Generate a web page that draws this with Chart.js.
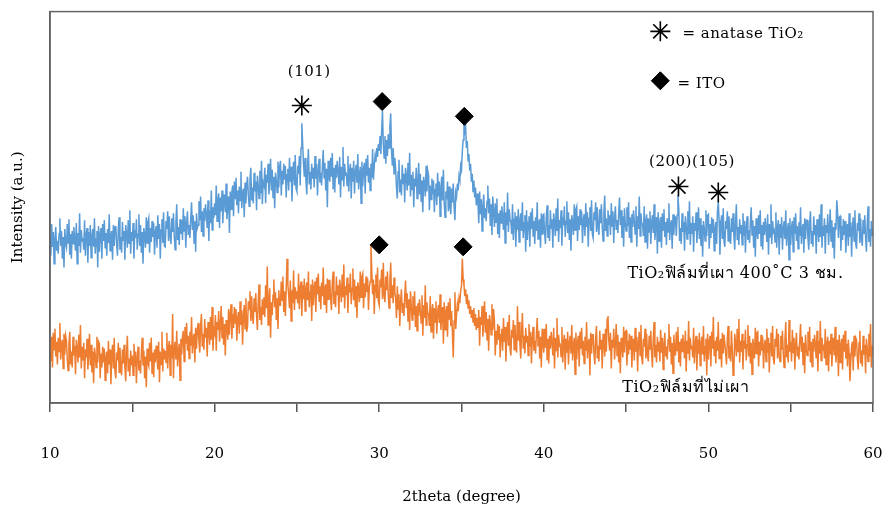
<!DOCTYPE html>
<html>
<head>
<meta charset="utf-8">
<script src="https://cdn.jsdelivr.net/npm/chart.js@4.4.1/dist/chart.umd.min.js"></script>
<style>
  body { margin: 0; background: #fff; }
</style>
</head>
<body>
<canvas id="xrd" width="887" height="515"></canvas>
<script>
// XRD scan: 10 - 60 deg, step 0.05 deg (one row = 1 deg)
const angleStart = 10;
const angleStep = 0.05;
const xTickLabels = [10, 20, 30, 40, 50, 60];

// TiO2 film annealed 400 C 3 h (blue)
const annealedCounts = [
  169,149,181,158,173,141,166,178,154,164,151,171,187,159,174,146,168,137,176,161,
  157,181,162,186,150,171,146,174,161,178,167,154,182,141,172,159,192,152,175,164,
  167,155,185,149,170,177,142,173,159,180,147,169,176,158,187,151,166,174,137,179,
  153,171,177,146,181,164,185,157,172,149,176,162,191,154,169,174,145,180,159,178,
  179,160,149,176,188,155,168,152,183,164,174,145,180,171,157,185,162,195,151,173,
  164,182,146,175,167,186,155,171,191,159,180,152,173,141,177,170,157,188,162,183,
  187,152,177,163,184,168,182,150,173,179,157,190,166,181,146,175,186,162,193,159,
  158,184,176,194,164,189,168,161,187,173,192,169,155,183,201,165,178,160,186,171,
  185,165,197,174,189,157,182,194,170,180,167,187,203,175,190,162,184,153,192,177,
  180,204,185,209,173,194,169,197,184,201,190,177,205,164,195,182,215,175,198,187,
  202,190,220,184,205,212,177,208,194,215,182,204,211,193,222,186,201,209,172,214,
  196,214,220,189,224,207,228,200,215,192,219,205,234,197,212,217,188,223,202,221,
  229,210,199,226,238,205,218,202,233,214,224,195,230,221,207,235,212,245,201,223,
  220,238,202,231,223,242,211,227,247,215,236,208,229,197,233,226,213,244,218,239,
  245,210,235,221,242,226,240,208,231,237,215,248,224,239,204,233,244,220,251,217,
  214,240,232,250,220,258,283,262,243,229,248,225,211,239,257,221,234,216,242,227,
  238,218,250,227,242,210,235,247,223,233,220,240,256,228,243,215,237,198,245,230,
  224,248,229,253,217,238,213,241,228,245,234,221,249,208,239,226,259,219,242,231,
  232,220,250,214,235,242,207,238,224,245,212,234,241,223,252,216,231,239,202,244,
  219,237,243,212,247,230,251,223,238,215,242,228,257,226,240,250,244,258,249,262,
  255,270,252,276,296,262,248,270,242,266,250,272,258,280,293,255,240,258,232,248,
  237,218,207,234,246,213,226,210,241,222,232,203,238,229,215,243,220,253,209,231,
  216,234,198,227,219,238,207,223,243,211,232,204,225,193,229,222,209,240,214,235,
  230,195,220,206,227,211,225,193,216,222,200,233,209,224,189,218,229,205,236,202,
  188,214,206,224,194,219,198,191,217,203,222,199,185,213,209,222,215,230,226,240,
  236,255,266,288,275,280,258,265,245,252,235,242,224,232,214,225,208,218,200,212,
  202,182,214,191,206,174,199,211,187,197,184,204,220,192,207,179,201,170,209,194,
  178,202,183,207,171,192,167,195,182,199,188,175,203,162,193,180,213,173,196,185,
  183,171,201,165,186,193,158,189,175,196,163,185,192,174,203,167,182,190,153,195,
  165,183,189,158,193,176,197,169,184,161,188,174,203,166,181,186,157,192,171,190,
  191,172,161,188,200,167,180,164,195,176,186,157,192,183,169,197,174,207,163,185,
  177,195,159,188,180,199,168,184,204,172,193,165,186,154,190,183,170,201,175,196,
  199,164,189,175,196,180,194,162,185,191,169,202,178,193,158,187,198,174,205,171,
  167,193,185,203,173,198,177,170,196,182,201,178,164,192,210,174,187,169,195,180,
  190,170,202,179,194,162,187,199,175,185,172,192,208,180,195,167,189,158,197,182,
  174,198,179,203,167,188,163,191,178,195,184,171,199,158,189,176,209,169,192,181,
  181,169,199,163,184,191,156,187,173,194,161,183,190,172,201,165,180,188,151,193,
  164,182,188,157,192,175,196,168,183,160,187,173,202,165,180,185,156,191,170,189,
  188,169,190,210,197,164,177,161,192,173,183,154,189,180,166,194,171,204,160,182,
  171,189,153,182,174,193,162,178,198,166,187,159,180,148,184,177,164,195,169,190,
  191,156,181,167,188,172,186,154,177,183,161,194,203,185,150,179,190,166,197,163,
  158,184,176,194,164,189,168,161,187,173,192,169,155,183,201,165,178,160,186,171,
  180,160,192,169,184,152,177,189,165,175,162,182,198,170,185,157,179,148,187,172,
  166,190,171,195,159,180,155,183,170,187,176,163,191,150,181,168,201,161,184,173,
  175,163,193,157,178,185,150,181,167,188,155,177,184,166,195,159,174,182,145,187,
  160,178,184,153,188,171,192,164,179,156,183,169,198,161,176,181,152,187,166,185,
  185,166,155,182,194,161,174,158,189,170,180,151,186,177,163,191,168,201,157,179,
  169,187,151,180,172,191,160,176,196,164,185,157,178,146,182,175,205,193,167,188,
  189,154,179,165,186,170,184,152,175,181,159,192,168,183,148,177,188,164,195,161,
  156,182,174,192,162,187,166,159,185,171,190,167,153,181,199,163,176,158,184,169,
  175
];

// TiO2 film not annealed (orange)
const rawCounts = [
  43,61,67,36,71,54,75,47,62,39,66,52,81,44,59,64,35,70,49,68,
  63,44,33,60,72,39,52,36,67,48,58,29,64,55,41,69,46,79,35,57,
  43,61,25,54,46,65,34,50,70,38,59,31,52,20,56,49,36,67,41,62,
  60,25,50,36,57,41,55,23,46,52,30,63,39,54,19,48,59,35,66,32,
  25,51,43,61,31,56,35,28,54,40,59,36,22,50,68,32,45,27,53,38,
  48,28,60,37,52,20,45,57,33,43,30,50,66,38,53,25,47,16,55,40,
  37,61,42,66,30,51,26,54,41,58,47,34,62,21,52,39,72,32,55,44,
  53,41,71,35,56,63,28,59,45,90,25,55,62,44,73,37,52,60,23,65,
  49,67,73,42,77,60,81,53,68,45,72,58,87,50,65,70,41,76,55,74,
  81,62,51,78,90,57,70,54,85,66,76,47,82,73,59,87,64,97,53,75,
  71,89,53,82,74,93,62,78,98,66,87,59,80,48,84,77,64,95,69,90,
  100,65,90,76,97,81,95,63,86,92,70,103,79,94,59,88,99,75,106,72,
  77,103,95,113,83,108,87,80,106,92,111,88,74,102,120,84,97,79,105,90,
  107,87,119,96,138,79,104,116,66,102,89,109,125,97,112,84,106,75,114,99,
  99,123,104,128,92,113,88,116,146,120,109,96,124,83,114,101,134,94,117,106,
  113,101,131,95,116,123,88,119,105,126,93,115,122,104,133,97,112,120,83,125,
  99,117,123,92,127,110,131,103,118,95,122,108,137,100,115,120,91,126,105,124,
  124,105,94,121,133,100,113,97,128,109,119,90,125,116,102,130,107,140,96,118,
  109,127,91,120,112,131,100,116,136,104,125,97,118,86,122,115,102,133,107,128,
  131,96,121,107,128,112,126,94,117,123,160,134,110,125,90,119,130,106,137,103,
  99,125,117,135,105,142,109,102,128,114,133,110,96,124,142,106,119,101,127,112,
  106,86,118,95,110,78,103,115,91,101,88,108,124,96,111,83,105,74,113,98,
  84,108,89,113,77,98,73,101,88,105,94,81,109,68,99,86,119,79,102,91,
  90,78,108,72,93,100,65,96,82,103,70,92,99,81,110,74,89,97,60,102,
  74,92,98,67,102,85,106,78,93,70,46,83,112,75,90,100,93,106,101,114,
  118,146,125,120,108,115,100,110,96,104,90,98,86,94,82,96,78,90,74,86,
  76,94,58,87,79,98,67,83,103,71,92,64,85,53,89,82,69,100,74,95,
  83,48,73,59,80,64,78,46,69,75,53,86,62,77,42,71,82,58,89,55,
  48,74,66,84,54,79,58,51,98,63,82,59,45,73,91,55,68,50,76,61,
  68,48,80,57,72,40,65,77,53,63,50,70,86,58,73,45,67,36,75,60,
  51,75,56,80,44,65,40,68,55,72,61,48,76,35,66,53,86,46,69,58,
  59,47,77,41,62,69,34,65,51,72,39,61,68,50,79,43,58,66,29,71,
  44,62,68,37,72,55,76,48,63,40,67,53,82,45,60,65,28,71,50,69,
  69,50,39,66,78,45,58,42,73,54,64,35,70,61,47,75,52,85,88,63,
  53,71,35,64,56,75,44,60,80,48,69,41,62,30,66,59,46,77,51,72,
  73,38,63,49,70,54,68,36,59,65,43,76,52,67,32,61,72,48,79,45,
  39,65,57,75,45,70,49,42,68,54,73,50,36,64,82,46,59,41,67,52,
  62,42,74,51,66,34,59,71,47,57,44,64,80,52,67,39,61,30,69,54,
  48,72,53,77,41,62,37,65,52,69,58,45,73,32,63,50,83,43,66,55,
  58,46,76,40,61,68,33,64,50,71,38,60,67,49,78,42,57,65,28,70,
  44,62,68,37,72,55,87,48,63,40,67,53,82,45,60,65,36,71,50,69,
  69,50,39,66,78,45,58,42,73,54,28,35,70,61,47,75,52,85,41,63,
  52,70,34,63,55,74,43,59,79,47,68,40,61,29,65,58,45,76,50,71,
  72,37,62,48,69,53,67,35,58,64,42,75,51,66,31,60,71,47,78,44,
  39,65,57,75,45,70,49,42,68,54,73,50,36,64,82,46,59,41,84,52,
  62,42,74,51,66,34,59,71,47,57,44,64,80,52,67,39,61,30,69,54,
  48,72,53,77,41,62,37,65,52,69,58,45,73,32,63,50,83,43,66,55,
  57,45,75,39,60,67,32,63,49,70,37,59,66,48,77,41,56,64,27,69,
  41,59,65,34,69,52,73,45,60,37,64,50,22,42,57,62,33,68,47,66,
  64,45,34,61,73,40,53,37,68,49,59,30,65,56,42,70,47,80,36,58,
  50
];

// peak markers [2theta, height]
const anataseMarks = [[25.3, 301], [48.18, 219], [50.6, 213], [47.08, 376]];
const itoMarks = [[30.18, 305], [35.17, 290], [30.0, 160], [35.1, 158], [47.08, 326]];

// text notes [text, 2theta, height, align, baseline, size]
const notes = [
  ['(101)', 25.75, 335, 'center', 'middle', 15],
  ['(200)(105)', 49.0, 244, 'center', 'middle', 15],
  ['= anatase TiO\u2082', 48.42, 373, 'left', 'middle', 15],
  ['= ITO', 48.12, 323, 'left', 'middle', 15],
  ['TiO\u2082ฟิล์มที่เผา 400\u02DAC 3 ชม.', 45.08, 126, 'left', 'alphabetic', 16],
  ['TiO\u2082ฟิล์มที่ไม่เผา', 44.77, 11, 'left', 'alphabetic', 16]
];

const serif = 'DejaVu Serif';

function toPoints(counts) {
  return counts.map((c, i) => ({ x: +(angleStart + i * angleStep).toFixed(2), y: c }));
}

const frameAndNotes = {
  id: 'frameAndNotes',
  afterDraw(chart) {
    const { ctx, chartArea: a, scales } = chart;
    ctx.save();
    ctx.strokeStyle = '#666';
    ctx.lineWidth = 1.5;
    ctx.strokeRect(a.left, a.top, a.right - a.left, a.bottom - a.top);
    ctx.fillStyle = '#000';
    ctx.letterSpacing = '0.5px';
    notes.forEach(([text, x, y, align, base, size]) => {
      ctx.font = size + 'px "' + serif + '"';
      ctx.textAlign = align;
      ctx.textBaseline = base;
      ctx.fillText(text, scales.x.getPixelForValue(x), scales.y.getPixelForValue(y));
    });
    ctx.restore();
  }
};

new Chart(document.getElementById('xrd'), {
  type: 'line',
  data: {
    datasets: [
      {
        type: 'scatter',
        data: anataseMarks.map(([x, y]) => ({ x, y })),
        pointStyle: 'star',
        pointRadius: 10,
        borderColor: '#000',
        borderWidth: 1.6,
        order: 0
      },
      {
        type: 'scatter',
        data: itoMarks.map(([x, y]) => ({ x, y })),
        pointStyle: 'rectRot',
        pointRadius: 9,
        backgroundColor: '#000',
        borderColor: '#000',
        borderWidth: 1,
        order: 0
      },
      {
        data: toPoints(annealedCounts),
        borderColor: '#5B9BD5',
        borderWidth: 1.5,
        pointRadius: 0,
        order: 1
      },
      {
        data: toPoints(rawCounts),
        borderColor: '#ED7D31',
        borderWidth: 1.5,
        pointRadius: 0,
        order: 2
      }
    ]
  },
  options: {
    responsive: false,
    animation: false,
    layout: { padding: { top: 7, right: 14, left: 0, bottom: 0 } },
    plugins: { legend: { display: false }, tooltip: { enabled: false } },
    scales: {
      x: {
        type: 'linear',
        min: 10,
        max: 60,
        afterFit: s => { s.height = 112; s.paddingLeft = 0; s.paddingRight = 0; },
        ticks: {
          stepSize: 5,
          padding: 33,
          color: '#000',
          font: { family: serif, size: 15 },
          callback: v => xTickLabels.includes(v) ? String(v) : ''
        },
        grid: { drawOnChartArea: false, drawTicks: true, tickLength: 9, color: '#555', lineWidth: 1.5 },
        border: { color: '#555', width: 1.5 },
        title: {
          display: true,
          text: '2theta (degree)',
          color: '#000',
          font: { family: serif, size: 15 },
          padding: { top: 0, bottom: 9 }
        }
      },
      y: {
        min: 0,
        max: 396,
        afterFit: s => { s.width = 50; },
        ticks: { display: false },
        grid: { display: false },
        border: { color: '#555', width: 1.5 },
        title: {
          display: true,
          text: 'Intensity (a.u.)',
          color: '#000',
          font: { family: serif, size: 15 },
          padding: { top: 9, bottom: 0 }
        }
      }
    }
  },
  plugins: [frameAndNotes]
});
</script>
</body>
</html>
